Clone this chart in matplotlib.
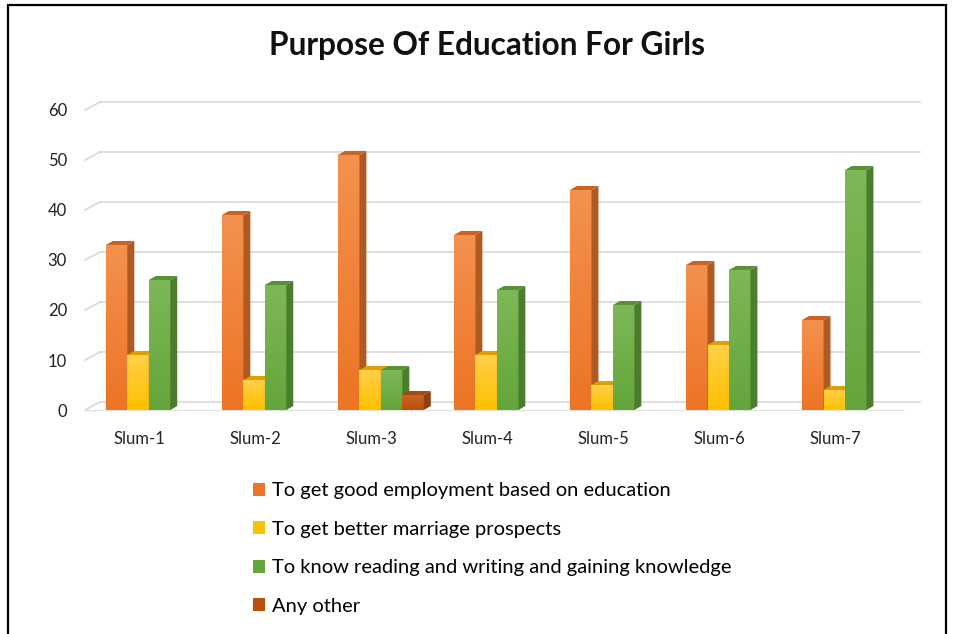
import numpy as np
import matplotlib.pyplot as plt
from matplotlib.patches import Polygon, Rectangle, Patch
from matplotlib.colors import to_rgb

plt.rcParams['font.family'] = ['Lato', 'DejaVu Sans']

slums = ["Slum-1", "Slum-2", "Slum-3", "Slum-4", "Slum-5", "Slum-6", "Slum-7"]
employment = [33, 39, 51, 35, 44, 29, 18]
marriage = [11, 6, 8, 11, 5, 13, 4]
knowledge = [26, 25, 8, 24, 21, 28, 48]
other = [0, 0, 3, 0, 0, 0, 0]

# label, values, front (top / bottom of gradient), side, top face
series = [
    ("To get good employment based on education", employment, "#F4914F", "#EC7424", "#B05A22", "#C9631F"),
    ("To get better marriage prospects", marriage, "#FFD04A", "#FFC000", "#C99200", "#DDA000"),
    ("To know reading and writing and gaining knowledge", knowledge, "#7DB857", "#64A63B", "#4A7D2C", "#5A9137"),
    ("Any other", other, "#CE6420", "#B9500D", "#8E3F0B", "#A44A0D"),
]

fig = plt.figure(figsize=(9.55, 6.34), dpi=100)
ax = fig.add_axes([0.089, 0.3533, 0.859, 0.489])
ax.set_xlim(-0.55, 6.52)
ax.set_ylim(0, 62)

# depth of the pseudo-3D look (data units)
dx, dy = 0.06, 0.8
wall_dx, wall_dy = 0.13, 1.6
w = 0.185
x = np.arange(len(slums))

# back-wall gridlines and the little floor/wall corner ticks
for v in range(0, 70, 10):
    ax.plot([-0.55 + wall_dx, 6.65], [v + wall_dy, v + wall_dy], color="#d9d9d9", lw=1.2, zorder=0, clip_on=False)
    ax.plot([-0.55, -0.55 + wall_dx], [v, v + wall_dy], color="#d9d9d9", lw=1.2, zorder=0, clip_on=False)
ax.plot([-0.55, 6.5], [0, 0], color="#e3e3e3", lw=1.0, zorder=0, clip_on=False)

grad = np.linspace(1, 0, 64).reshape(-1, 1, 1)

z = 2
for k, (name, vals, c_top, c_bot, side, top) in enumerate(series):
    xs = x + (k - 1.5) * w
    ramp = grad * np.array(to_rgb(c_top)) + (1 - grad) * np.array(to_rgb(c_bot))
    for xi, v in zip(xs, vals):
        if v == 0:
            continue
        l, r = xi - w / 2, xi + w / 2
        bar = ax.bar(xi, v, width=w, color=c_bot, zorder=z)[0]
        img = ax.imshow(ramp, extent=[l, r, 0, v], aspect="auto", zorder=z, interpolation="bilinear")
        img.set_clip_path(bar)
        ax.add_patch(Polygon([(r, 0), (r + dx, dy), (r + dx, v + dy), (r, v)],
                             closed=True, facecolor=side, edgecolor="none", zorder=z))
        ax.add_patch(Polygon([(l, v), (l + dx, v + dy), (r + dx, v + dy), (r, v)],
                             closed=True, facecolor=top, edgecolor="none", zorder=z))
        z += 1

ax.set_xlim(-0.55, 6.52)
ax.set_ylim(0, 62)
ax.set_xticks(x - 0.08)
ax.set_xticklabels(slums, fontsize=12)
ax.set_yticks(range(0, 70, 10))
ax.tick_params(axis="both", length=0, labelsize=12, colors="#222222")
ax.tick_params(axis="y", pad=13)
ax.tick_params(axis="x", pad=15)
for s in ax.spines.values():
    s.set_visible(False)

fig.text(0.51, 0.928, "Purpose Of Education For Girls", ha="center", va="center",
         fontsize=22.8, fontweight="bold", color="#111111")

handles = [Patch(facecolor=s[3]) for s in series]
labels = [s[0] for s in series]
fig.legend(handles, labels, loc="upper left", bbox_to_anchor=(0.2565, 0.252),
           frameon=False, fontsize=14.5, handlelength=0.6, handleheight=0.6,
           handletextpad=0.35, labelspacing=1.07, borderaxespad=0)

fig.patches.append(Rectangle((8 / 955, -0.01), (946 - 8) / 955, 1 - 5 / 634 + 0.01,
                             transform=fig.transFigure, fill=False, edgecolor="black", lw=1.6))

fig.savefig("out.png", dpi=100)
